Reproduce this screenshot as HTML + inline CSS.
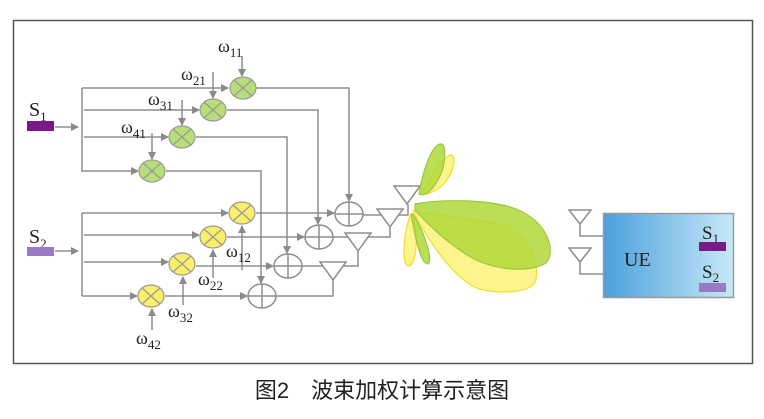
<!DOCTYPE html>
<html><head><meta charset="utf-8"><style>
body{margin:0;background:#fff;width:764px;height:419px;overflow:hidden}
svg{display:block}
.t{font-family:"Liberation Serif",serif;fill:#222}
</style></head><body>
<svg width="764" height="419" viewBox="0 0 764 419">
<defs>
<marker id="a" markerWidth="8" markerHeight="8" refX="7" refY="4" orient="auto" markerUnits="userSpaceOnUse"><path d="M0,0 L8,4 L0,8Z" fill="#8a8a8a"/></marker>
<linearGradient id="g" x1="0" x2="1"><stop offset="0" stop-color="#4aa0dc"/><stop offset="1" stop-color="#c8e8f8"/></linearGradient>
</defs>
<rect x="13.5" y="20.5" width="739" height="343" fill="none" stroke="#555" stroke-width="1.5"/>
<g stroke="#8e8e8e" stroke-width="1.5" fill="none">
<path d="M55,127 H78" marker-end="url(#a)"/>
<path d="M82,88 V172"/>
<path d="M82,88 H228" marker-end="url(#a)"/>
<path d="M84,110 H199" marker-end="url(#a)"/>
<path d="M84,137 H168" marker-end="url(#a)"/>
<path d="M82,171 H138" marker-end="url(#a)"/>
<path d="M242,56 V76" marker-end="url(#a)"/>
<path d="M213,72 V98" marker-end="url(#a)"/>
<path d="M182,100 V125" marker-end="url(#a)"/>
<path d="M152,133 V159" marker-end="url(#a)"/>
<path d="M256,88 H349 V201" marker-end="url(#a)"/>
<path d="M227,110 H318 V224" marker-end="url(#a)"/>
<path d="M196,137 H287 V253" marker-end="url(#a)"/>
<path d="M166,171 H261 V283" marker-end="url(#a)"/>
<path d="M55,251 H78" marker-end="url(#a)"/>
<path d="M82,213 V296"/>
<path d="M82,213 H228" marker-end="url(#a)"/>
<path d="M84,235 H199" marker-end="url(#a)"/>
<path d="M84,262 H168" marker-end="url(#a)"/>
<path d="M82,296 H137" marker-end="url(#a)"/>
<path d="M242,270 V226" marker-end="url(#a)"/>
<path d="M213,278 V250" marker-end="url(#a)"/>
<path d="M183,305 V277" marker-end="url(#a)"/>
<path d="M152,330 V309" marker-end="url(#a)"/>
<path d="M256,213 H334" marker-end="url(#a)"/>
<path d="M227,237 H304" marker-end="url(#a)"/>
<path d="M196,266 H273" marker-end="url(#a)"/>
<path d="M165,296 H247" marker-end="url(#a)"/>
<path d="M363,215 H408 V204"/>
<path d="M332,237 H390 V227"/>
<path d="M301,266 H358 V251"/>
<path d="M276,296 H333 V280"/>
<ellipse cx="349" cy="214" rx="14" ry="12" fill="#fff"/><path d="M335,214 H363 M349,202 V226"/>
<ellipse cx="319" cy="237" rx="14" ry="12" fill="#fff"/><path d="M305,237 H333 M319,225 V249"/>
<ellipse cx="288" cy="266" rx="14" ry="12" fill="#fff"/><path d="M274,266 H302 M288,254 V278"/>
<ellipse cx="262" cy="296" rx="14" ry="12" fill="#fff"/><path d="M248,296 H276 M262,284 V308"/>
<path d="M394,186 H420 L407,204 Z" fill="#fff"/>
<path d="M377,209 H403 L390,227 Z" fill="#fff"/>
<path d="M345,233 H371 L358,251 Z" fill="#fff"/>
<path d="M320,262 H346 L333,280 Z" fill="#fff"/>
</g>
<g stroke="#999" stroke-width="1.2">
<g fill="#b8de78">
<ellipse cx="243" cy="88" rx="13" ry="11"/><path d="M234,80 L252,96 M252,80 L234,96"/>
<ellipse cx="213" cy="110" rx="13" ry="11"/><path d="M204,102 L222,118 M222,102 L204,118"/>
<ellipse cx="182" cy="137" rx="13" ry="11"/><path d="M173,129 L191,145 M191,129 L173,145"/>
<ellipse cx="152" cy="171" rx="13" ry="11"/><path d="M143,163 L161,179 M161,163 L143,179"/>
</g>
<g fill="#fbef6a">
<ellipse cx="242" cy="213" rx="13" ry="11"/><path d="M233,205 L251,221 M251,205 L233,221"/>
<ellipse cx="213" cy="237" rx="13" ry="11"/><path d="M204,229 L222,245 M222,229 L204,245"/>
<ellipse cx="182" cy="264" rx="13" ry="11"/><path d="M173,256 L191,272 M191,256 L173,272"/>
<ellipse cx="151" cy="296" rx="13" ry="11"/><path d="M142,288 L160,304 M160,288 L142,304"/>
</g>
</g>
<g stroke-width="1.2" fill-opacity="0.85">
<path d="M421,194 C430,180 440,160 450,155 C457,154 454,171 446,181 C438,191 428,195 421,194Z" fill="#fdf27a" stroke="#f0e020"/>
<path d="M419,194 C423,170 431,147 440,144 C447,142 446,165 439,178 C433,190 425,197 419,194Z" fill="#b0d838" stroke="#98c840"/>
<path d="M413,211 C430,214 470,219 500,224 C532,234 542,270 534,284 C525,294 495,293 479,289 C458,281 433,250 413,211Z" fill="#fdf27a" stroke="#f0e020"/>
<path d="M415,204 C440,199 490,199 516,209 C547,221 557,251 546,263 C530,273 494,271 469,256 C444,241 424,220 415,210Z" fill="#b0d838" stroke="#98c840"/>
<path d="M411,214 C404,230 401,263 408,266 C416,266 419,240 413,214Z" fill="#fdf27a" stroke="#f0e020"/>
<path d="M411,214 C415,235 420,264 428,264 C433,261 426,235 413,214Z" fill="#b0d838" stroke="#98c840"/>
</g>
<g stroke="#8e8e8e" stroke-width="1.5" fill="none">
<path d="M569,210 H591 L580,224 Z M580,224 V236 H603"/>
<path d="M569,248 H591 L580,262 Z M580,262 V274 H603"/>
</g>
<rect x="603.5" y="213.5" width="130" height="84" fill="url(#g)" stroke="#999" stroke-width="1.5"/>
<text x="624" y="266" class="t" font-size="20">UE</text>
<text x="702" y="239" class="t" font-size="19">S<tspan font-size="13" dy="4">1</tspan></text>
<rect x="699" y="242" width="27" height="9" fill="#7b1a87"/>
<text x="702" y="278" class="t" font-size="19">S<tspan font-size="13" dy="4">2</tspan></text>
<rect x="699" y="283" width="27" height="9" fill="#9a79c4"/>
<text x="29" y="116" class="t" font-size="20">S<tspan font-size="13" dy="5">1</tspan></text>
<rect x="27" y="121" width="27" height="10" fill="#7b1a87"/>
<text x="29" y="243" class="t" font-size="20">S<tspan font-size="13" dy="5">2</tspan></text>
<rect x="27" y="247" width="27" height="9" fill="#9a79c4"/>
<g class="t" font-size="18">
<text x="218" y="52">ω<tspan font-size="13" dy="5">11</tspan></text>
<text x="181" y="80">ω<tspan font-size="13" dy="5">21</tspan></text>
<text x="148" y="105">ω<tspan font-size="13" dy="5">31</tspan></text>
<text x="121" y="133">ω<tspan font-size="13" dy="5">41</tspan></text>
<text x="226" y="257">ω<tspan font-size="13" dy="5">12</tspan></text>
<text x="198" y="285">ω<tspan font-size="13" dy="5">22</tspan></text>
<text x="168" y="317">ω<tspan font-size="13" dy="5">32</tspan></text>
<text x="136" y="344">ω<tspan font-size="13" dy="5">42</tspan></text>
</g>
<text x="382" y="398" text-anchor="middle" font-family="'Liberation Sans','Noto Sans CJK SC',sans-serif" font-size="22" fill="#222">图2　波束加权计算示意图</text>
</svg>
</body></html>
